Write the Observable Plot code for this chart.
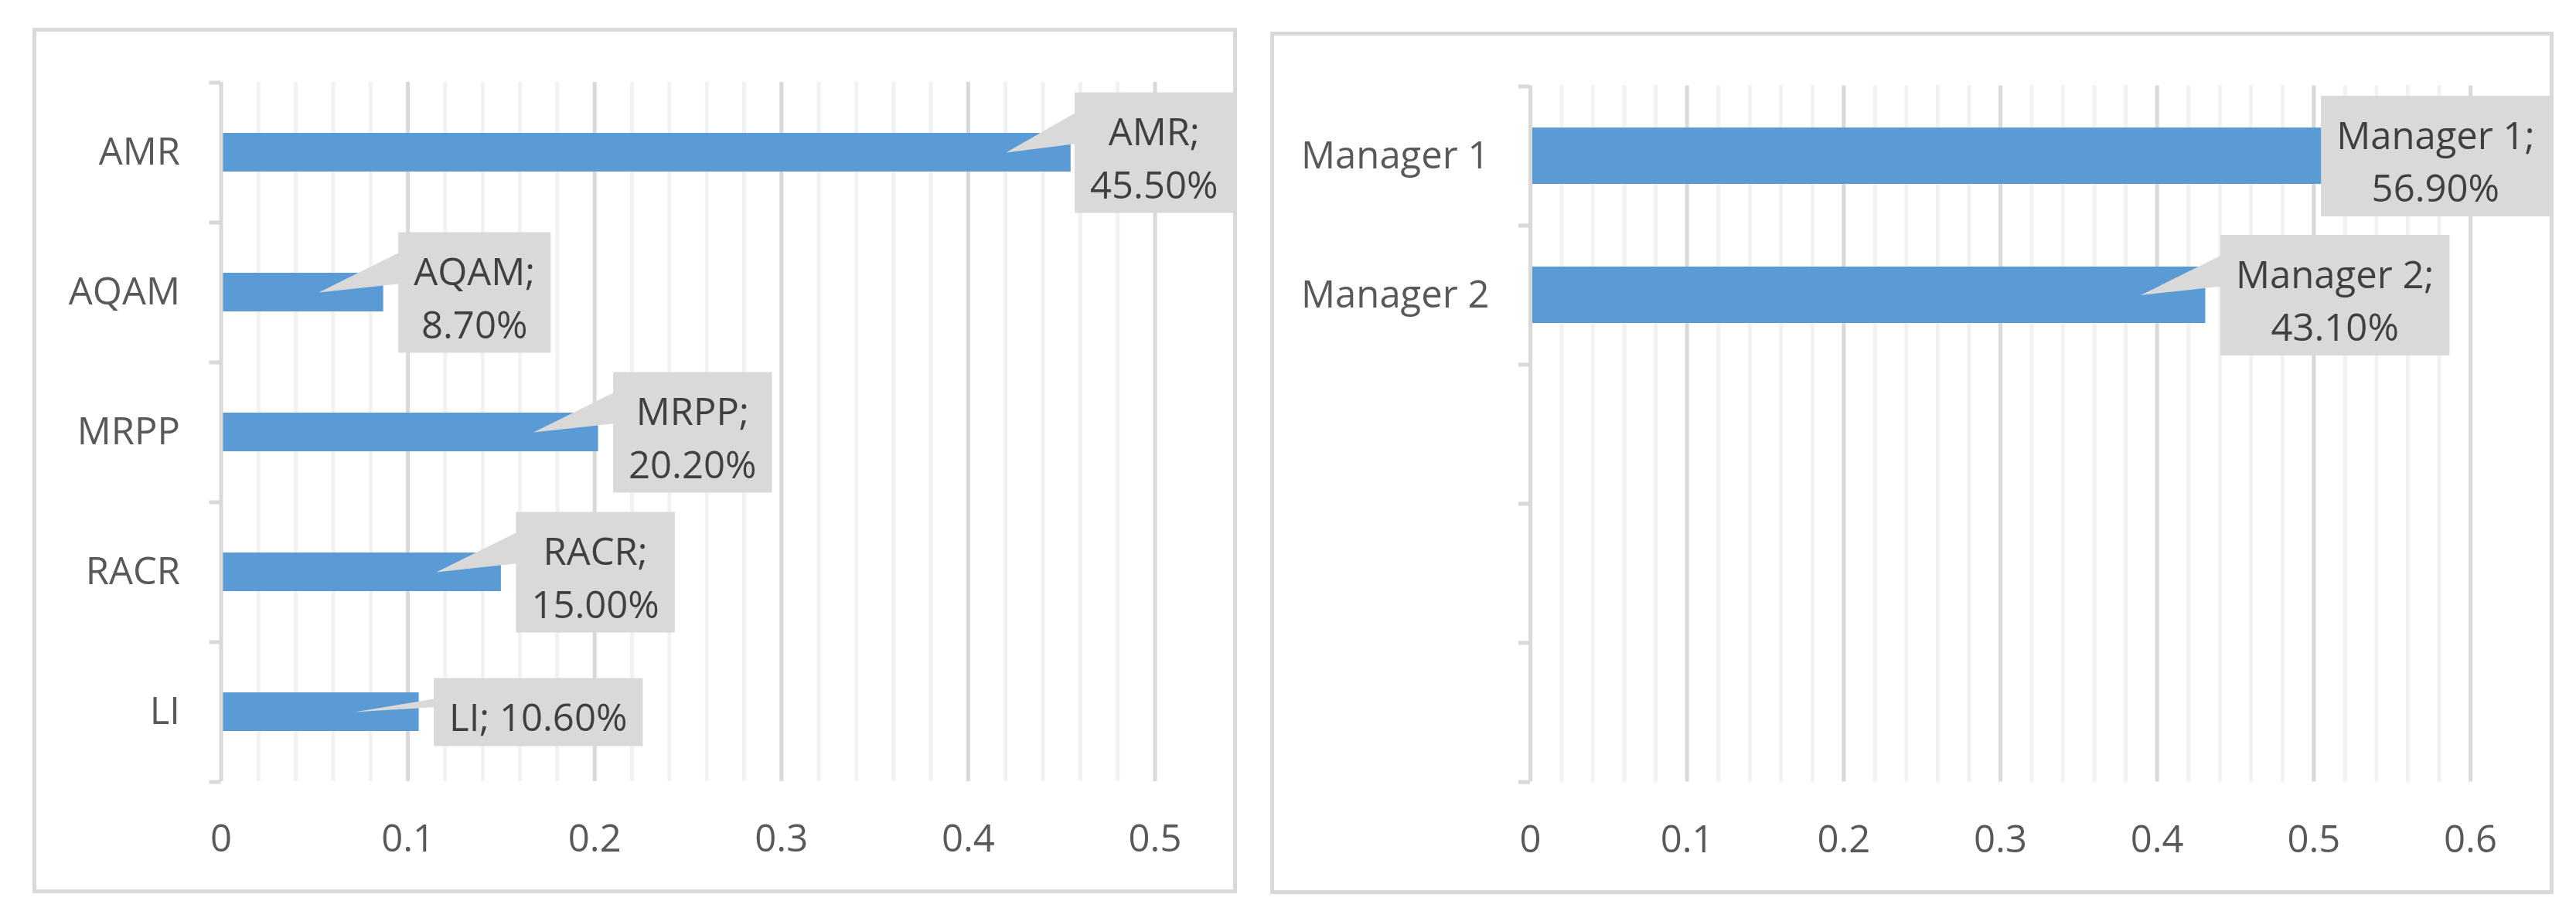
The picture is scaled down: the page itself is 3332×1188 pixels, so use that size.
<!DOCTYPE html>
<html>
<head>
<meta charset="utf-8">
<script src="https://cdn.jsdelivr.net/npm/d3@7"></script>
<script src="https://cdn.jsdelivr.net/npm/@observablehq/plot@0.6"></script>
<style>
  html, body { margin: 0; padding: 0; background: #ffffff; }
  body { width: 3332px; height: 1188px; position: relative; overflow: hidden; }
  .panel { position: absolute; box-sizing: border-box; border: 5px solid #d9d9d9; background: #fff; overflow: hidden; }
  .panel svg { display: block; }
</style>
</head>
<body>
<div id="p1" class="panel" style="left:41.5px;top:36px;width:1558px;height:1120px"></div>
<div id="p2" class="panel" style="left:1642.5px;top:40.5px;width:1660px;height:1116px"></div>
<script>
// ---------------- data ----------------
const leftCategories = ["AMR", "AQAM", "MRPP", "RACR", "LI"];
const leftValues = [0.455, 0.087, 0.202, 0.150, 0.106];
const leftLabels = ["AMR;\n45.50%", "AQAM;\n8.70%", "MRPP;\n20.20%", "RACR;\n15.00%", "LI; 10.60%"];
const leftTicks = [0, 0.1, 0.2, 0.3, 0.4, 0.5];

const rightCategories = ["Manager 1", "Manager 2"];
const rightSlots = ["Manager 1", "Manager 2", " ", "  ", "   "];
const rightValues = [0.569, 0.431];
const rightLabels = ["Manager 1;\n56.90%", "Manager 2;\n43.10%"];
const rightTicks = [0, 0.1, 0.2, 0.3, 0.4, 0.5, 0.6];

// ---------------- styles ----------------
const FONT = "'Open Sans', 'DejaVu Sans', sans-serif";
const FS = 49;
const BAR = "#5b9bd5";
const GRID_MAJOR = "#d9d9d9";
const GRID_MINOR = "#f2f2f2";
const CALLOUT = "#d9d9d9";
const PAD = 20, GAP = 19;

const cnv = document.createElement("canvas").getContext("2d");
function textWidth(s) { cnv.font = `${FS}px "Open Sans"`; return cnv.measureText(s).width; }

function makePanel(cfg) {
  const {cats, values, labels, yDomain, ticks, width, height, ml, mr, mt, mb, padInner} = cfg;
  const xMax = ticks[ticks.length - 1];
  const data = cats.map((c, i) => ({cat: c, value: values[i], label: labels[i]}));
  const plotW = width - ml - mr;
  const px = v => ml + v / xMax * plotW;
  const step = (height - mt - mb) / yDomain.length;
  const minor = d3.range(1, Math.round(xMax / 0.02)).filter(i => i % 5 !== 0).map(i => i * 0.02);
  const major = ticks.filter(t => t > 0);

  const labelMarks = data.flatMap(d => {
    const lines = d.label.split("\n");
    const w = Math.max(...lines.map(textWidth)) + 2 * PAD;
    const halfH = lines.length === 1 ? 44 : 78;
    const xe = px(d.value);
    const L = Math.min(GAP, width - w - xe);
    const sym = {
      draw(ctx) {
        ctx.moveTo(L, -halfH); ctx.lineTo(L + w, -halfH); ctx.lineTo(L + w, halfH); ctx.lineTo(L, halfH); ctx.closePath();
        if (L > 0) { ctx.moveTo(-84, 0); ctx.lineTo(L, -halfH + 27); ctx.lineTo(L, -halfH / 7); ctx.closePath(); }
      }
    };
    return [
      Plot.dot([d], {x: "value", y: "cat", symbol: sym, r: 5, fill: CALLOUT, stroke: "none"}),
      Plot.text([d], {x: "value", y: "cat", text: "label", dx: L + w / 2, dy: 3, fill: "#404040", fontSize: FS, lineHeight: 1.4, textAnchor: "middle"})
    ];
  });

  const last = yDomain[yDomain.length - 1];
  return Plot.plot({
    width, height,
    marginLeft: ml, marginRight: mr, marginTop: mt, marginBottom: mb,
    style: {fontFamily: FONT, fontSize: FS + "px", color: "#595959", background: "transparent", overflow: "visible"},
    x: {domain: [0, xMax], label: null},
    y: {domain: yDomain, paddingInner: padInner, paddingOuter: padInner / 2, label: null},
    marks: [
      Plot.ruleX(minor, {stroke: GRID_MINOR, strokeWidth: 5}),
      Plot.ruleX(major, {stroke: GRID_MAJOR, strokeWidth: 5}),
      Plot.barX(data, {x: "value", y: "cat", fill: BAR}),
      Plot.ruleX([0], {stroke: GRID_MAJOR, strokeWidth: 5}),
      Plot.ruleY(yDomain, {y: d => d, dy: -step / 2, x1: 0, x2: 0, insetLeft: -15, stroke: GRID_MAJOR, strokeWidth: 5}),
      Plot.ruleY([last], {y: d => d, dy: step / 2, x1: 0, x2: 0, insetLeft: -15, stroke: GRID_MAJOR, strokeWidth: 5}),
      ...labelMarks,
      Plot.axisY({tickSize: 0, tickPadding: 53, fontSize: FS}),
      Plot.axisX({ticks, tickSize: 0, tickPadding: 56, fontSize: FS, tickFormat: d => String(d)})
    ]
  });
}

document.getElementById("p1").append(makePanel({
  cats: leftCategories, values: leftValues, labels: leftLabels, yDomain: leftCategories, ticks: leftTicks,
  width: 1548, height: 1110, ml: 238.5, mr: 101.5, mt: 65, mb: 140, padInner: 0.724
}));
document.getElementById("p2").append(makePanel({
  cats: rightCategories, values: rightValues, labels: rightLabels, yDomain: rightSlots, ticks: rightTicks,
  width: 1650, height: 1106, ml: 331, mr: 103, mt: 64.5, mb: 140.5, padInner: 0.597
}));
</script>
</body>
</html>
